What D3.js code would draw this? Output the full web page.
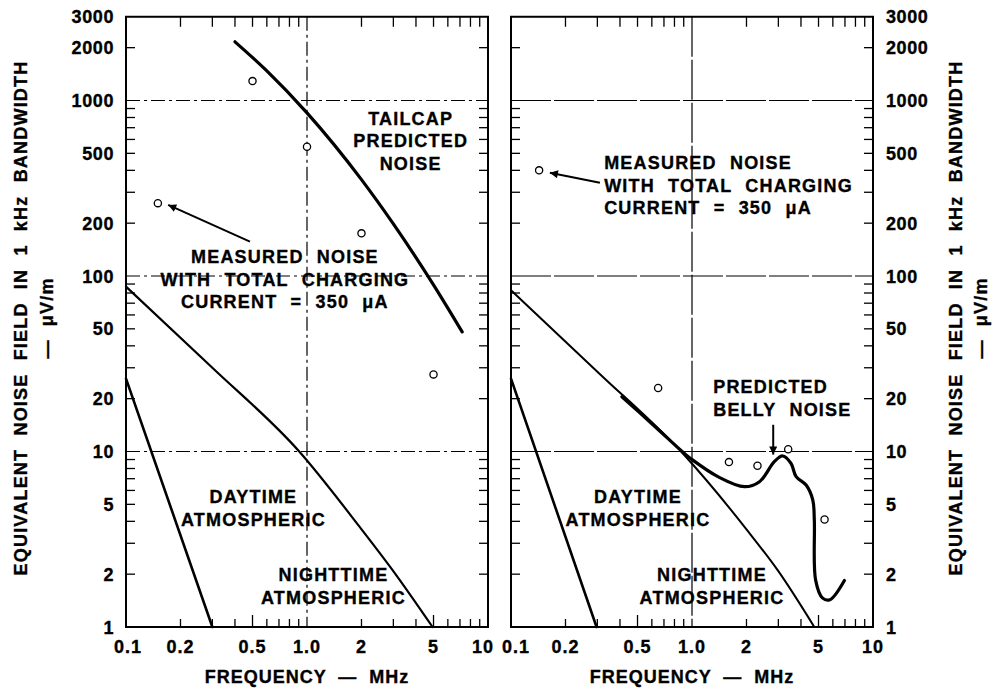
<!DOCTYPE html>
<html><head><meta charset="utf-8">
<script src="https://cdn.jsdelivr.net/npm/d3@7"></script>
<style>
body{margin:0;background:#fff;}
text{font-family:"Liberation Sans",Arial,Helvetica,sans-serif;font-weight:bold;fill:#000;}
</style></head><body>
<svg id="chart" width="993" height="698"></svg>
<script>
// ---- data ----
const xTickLabels = ["0.1","0.2","0.5","1.0","2","5","10"];
const xTickValues = [0.1,0.2,0.5,1,2,5,10];
const yTickLabels = ["3000","2000","1000","500","200","100","50","20","10","5","2","1"];
const yTickValues = [3000,2000,1000,500,200,100,50,20,10,5,2,1];

// left panel
const tailcapFreq  = [0.40, 0.6, 1.0, 2.0, 3.0, 5.0, 7.2];
const tailcapNoise = [2160, 1475, 850, 354, 198, 89, 48];
const measuredLeftFreq  = [0.15, 0.5, 1.0, 2.0, 5.0];
const measuredLeftNoise = [260, 1290, 545, 175, 27.5];
const dayLeftFreq  = [0.1, 0.3, 0.906, 1.95, 2.97, 4.94];
const dayLeftNoise = [87, 30, 10, 3.73, 2.11, 1.0];
const nightLeftFreq  = [0.1, 0.3];
const nightLeftNoise = [26, 1];

// right panel
const bellyFreq  = [0.41, 0.6, 0.906, 1.0, 1.39, 1.95, 2.36, 2.85, 3.17, 3.52, 3.76, 4.27, 4.65, 4.74, 4.82, 5.27, 5.78, 6.95];
const bellyNoise = [20.5, 14.4, 9.77, 9.0, 7.19, 6.30, 6.73, 8.75, 9.43, 8.57, 7.19, 6.44, 5.29, 4.07, 1.85, 1.46, 1.43, 1.84];
const measuredRightFreq  = [0.143, 0.65, 1.6, 2.3, 3.4, 5.4];
const measuredRightNoise = [400, 23, 8.7, 8.3, 10.3, 4.1];
const dayRightFreq  = [0.1, 0.3, 0.906, 2.0, 3.0, 4.74];
const dayRightNoise = [83, 28.5, 9.55, 3.6, 2.08, 1.0];
const nightRightFreq  = [0.1, 0.297];
const nightRightNoise = [26, 1];

const xTitle = "FREQUENCY — MHz";
const yTitle1 = "EQUIVALENT NOISE FIELD IN 1 kHz BANDWIDTH";
const yTitle2 = "— μV/m";

const measuredText = ["MEASURED NOISE","WITH TOTAL CHARGING","CURRENT = 350 μA"];

const zip = (a,b)=>a.map((v,i)=>[v,b[i]]);

const panels = [
  {left:126, right:488, ySide:"left",
   curves:[
     {pts:zip(tailcapFreq,tailcapNoise), w:3.2},
     {pts:zip(dayLeftFreq,dayLeftNoise), w:2.2},
     {pts:zip(nightLeftFreq,nightLeftNoise), w:2.6}],
   circles:zip(measuredLeftFreq,measuredLeftNoise),
   labels:[
     {at:[3.74,792], lines:["TAILCAP","PREDICTED","NOISE"], anchor:"middle"},
     {at:[0.755,129], lines:measuredText, anchor:"middle"},
     {at:[0.506,5.53], lines:["DAYTIME","ATMOSPHERIC"], anchor:"middle"},
     {at:[1.40,1.98], lines:["NIGHTTIME","ATMOSPHERIC"], anchor:"middle"}],
   arrows:[{from:[0.484,157], to:[0.171,254]}],
   gridDash:"14,4,3,4", xLabelShift:{"10":-5, "0.1":2}},
  {left:511, right:873, ySide:"right",
   curves:[
     {pts:zip(dayRightFreq,dayRightNoise), w:2.0},
     {pts:zip(nightRightFreq,nightRightNoise), w:2.6},
     {pts:zip(bellyFreq,bellyNoise), w:3.2, curve:"cr"}],
   circles:zip(measuredRightFreq,measuredRightNoise),
   labels:[
     {at:[0.327,442], lines:measuredText, anchor:"start"},
     {at:[1.31,23.4], lines:["PREDICTED","BELLY NOISE"], anchor:"start"},
     {at:[0.503,5.53], lines:["DAYTIME","ATMOSPHERIC"], anchor:"middle"},
     {at:[1.29,1.98], lines:["NIGHTTIME","ATMOSPHERIC"], anchor:"middle"}],
   arrows:[{from:[0.31,340], to:[0.164,388]}, {from:[2.81,14.2], to:[2.81,9.6]}],
   gridDash:"40,3", xLabelShift:{"0.1":5, "10":0}}
];

const svg = d3.select("#chart");
svg.append("rect").attr("width",993).attr("height",698).attr("fill","#fff");
const defs = svg.append("defs");
defs.append("marker").attr("id","ah").attr("viewBox","0 0 10 10")
  .attr("refX",10).attr("refY",5).attr("markerWidth",14).attr("markerHeight",8)
  .attr("markerUnits","userSpaceOnUse").attr("orient","auto")
  .append("path").attr("d","M0,0 L10,5 L0,10 Z").attr("fill","#000");

const plotBottom = 627;
const y = d3.scaleLog().domain([1,3000]).range([plotBottom, plotBottom - Math.log10(3000)*175.5]);
const minorVals = [];
[0.1,1].forEach(d=>{for(let k=2;k<=9;k++) minorVals.push(+(d*k).toFixed(2));});
const yMinor = [];
[1,10,100,1000].forEach(d=>{for(let k=2;k<=9;k++){const v=d*k; if(v<3000) yMinor.push(v);}});

function styleText(t, size, ls, ws){
  return t.attr("font-size",size).attr("letter-spacing",ls).attr("word-spacing",ws||0)
    .attr("stroke","#000").attr("stroke-width",0.35);
}

panels.forEach(p=>{
  const x = d3.scaleLog().domain([0.1,10]).range([p.left,p.right]);
  const yTop = y(3000);
  const g = svg.append("g");

  // gridlines
  [10,100,1000].forEach(v=>{
    g.append("line").attr("x1",p.left).attr("x2",p.right).attr("y1",y(v)).attr("y2",y(v))
      .attr("stroke","#000").attr("stroke-width",1.2).attr("stroke-dasharray",p.gridDash);
  });
  g.append("line").attr("x1",x(1)).attr("x2",x(1)).attr("y1",yTop).attr("y2",plotBottom)
    .attr("stroke","#000").attr("stroke-width",1.2).attr("stroke-dasharray",p.gridDash);

  // ticks: bottom & top
  minorVals.forEach(v=>{
    const len = (v===0.5||v===5)?12:8;
    g.append("line").attr("x1",x(v)).attr("x2",x(v)).attr("y1",plotBottom).attr("y2",plotBottom-len).attr("stroke","#000").attr("stroke-width",1.3);
    g.append("line").attr("x1",x(v)).attr("x2",x(v)).attr("y1",yTop).attr("y2",yTop+10).attr("stroke","#000").attr("stroke-width",1.3);
  });
  // ticks left & right
  yMinor.forEach(v=>{
    g.append("line").attr("x1",p.left).attr("x2",p.left+9).attr("y1",y(v)).attr("y2",y(v)).attr("stroke","#000").attr("stroke-width",1.3);
    g.append("line").attr("x1",p.right).attr("x2",p.right-9).attr("y1",y(v)).attr("y2",y(v)).attr("stroke","#000").attr("stroke-width",1.3);
  });

  // frame
  g.append("rect").attr("x",p.left).attr("y",yTop).attr("width",p.right-p.left).attr("height",plotBottom-yTop)
    .attr("fill","none").attr("stroke","#000").attr("stroke-width",2);

  // curves
  p.curves.forEach(c=>{
    const line = d3.line().x(d=>x(d[0])).y(d=>y(d[1]))
      .curve(c.curve==="cr"?d3.curveCatmullRom.alpha(0.5):d3.curveMonotoneX);
    g.append("path").attr("d",line(c.pts)).attr("fill","none").attr("stroke","#000")
      .attr("stroke-width",c.w).attr("stroke-linejoin","round").attr("stroke-linecap","round");
  });

  // circles
  g.selectAll("circle.m").data(p.circles).enter().append("circle")
    .attr("cx",d=>x(d[0])).attr("cy",d=>y(d[1])).attr("r",3.6)
    .attr("fill","#fff").attr("stroke","#000").attr("stroke-width",1.3);

  // arrows
  p.arrows.forEach(a=>{
    g.append("line").attr("x1",x(a.from[0])).attr("y1",y(a.from[1]))
      .attr("x2",x(a.to[0])).attr("y2",y(a.to[1]))
      .attr("stroke","#000").attr("stroke-width",2).attr("marker-end","url(#ah)");
  });

  // labels
  p.labels.forEach(l=>{
    const t = styleText(g.append("text").attr("text-anchor",l.anchor), 18, 1.2, 7);
    l.lines.forEach((s,i)=>{
      t.append("tspan").attr("x",x(l.at[0])).attr("y",y(l.at[1])+6.5+i*22.5).text(s);
    });
  });

  // x tick labels
  xTickValues.forEach((v,i)=>{
    const sh = p.xLabelShift[xTickLabels[i]] || 0;
    styleText(g.append("text").attr("x",x(v)+sh).attr("y",653).attr("text-anchor","middle"), 18, 1)
      .text(xTickLabels[i]);
  });
  styleText(g.append("text").attr("x",(p.left+p.right)/2).attr("y",683).attr("text-anchor","middle"), 18, 1, 6)
    .text(xTitle);

  // y tick labels
  yTickValues.forEach((v,i)=>{
    const tx = p.ySide==="left" ? p.left-12 : p.right+13;
    styleText(g.append("text").attr("x",tx).attr("y",y(v)+6.5)
      .attr("text-anchor",p.ySide==="left"?"end":"start"), 18, 0.6)
      .text(yTickLabels[i]);
  });

  // y titles
  const cx1 = p.ySide==="left" ? 20 : 955;
  const cx2 = p.ySide==="left" ? 46 : 980;
  const cy = 318;
  styleText(g.append("text").attr("transform",`translate(${cx1+6.5},${cy}) rotate(-90)`)
    .attr("text-anchor","middle"), 18, 1.2, 7).text(yTitle1);
  styleText(g.append("text").attr("transform",`translate(${cx2+6.5},${cy}) rotate(-90)`)
    .attr("text-anchor","middle"), 18, 1.2, 7).text(yTitle2);
});
</script>
</body></html>
